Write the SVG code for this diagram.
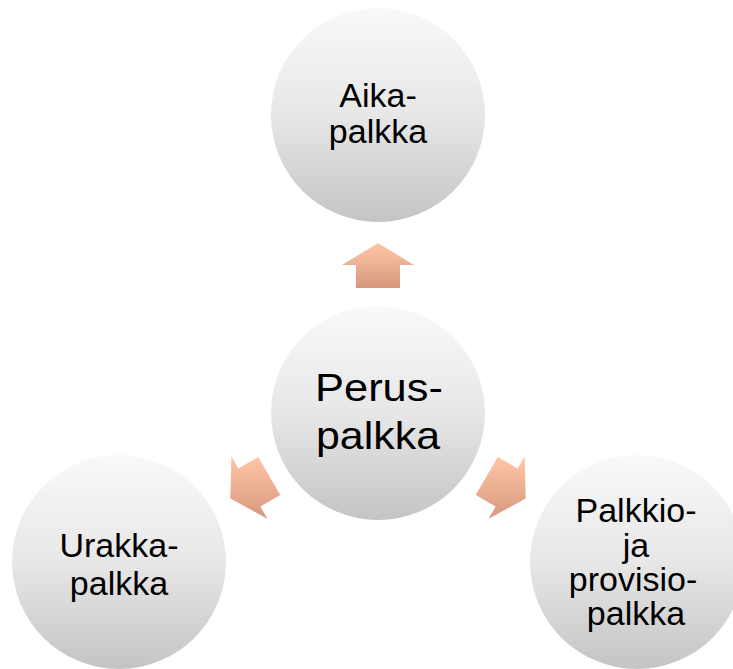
<svg xmlns="http://www.w3.org/2000/svg" width="733" height="669" viewBox="0 0 733 669">
<defs>
<linearGradient id="gCircle" x1="0" y1="0" x2="0" y2="1">
<stop offset="0" stop-color="#F9F9F9"/>
<stop offset="0.5" stop-color="#E7E7E7"/>
<stop offset="1" stop-color="#C4C4C4"/>
</linearGradient>
<linearGradient id="gArrow" x1="0" y1="0" x2="0" y2="1">
<stop offset="0" stop-color="#FFC7A6"/>
<stop offset="1" stop-color="#D6987E"/>
</linearGradient>
<style>
.node{fill:url(#gCircle);}
.arrow{fill:url(#gArrow);}
text{font-family:"Liberation Sans",Arial,sans-serif;fill:#000;text-anchor:middle;}
.s{font-size:34px;}
.l{font-size:39px;}
</style>
</defs>
<g id="connectors">
<polygon class="arrow" points="378,243 342,265 356,265 356,288 400,288 400,265 414,265"/>
<polygon class="arrow" points="230.3,498.5 267.4,518.7 260.4,506.6 280.3,495.1 258.3,457 238.4,468.5 231.4,456.3"/>
<polygon class="arrow" points="525.7,498.5 488.6,518.7 495.6,506.6 475.7,495.1 497.7,457 517.6,468.5 524.6,456.3"/>
</g>
<g id="node-aika">
<circle class="node" cx="378" cy="115" r="107"/>
<text class="s" x="378" y="107">Aika-</text>
<text class="s" x="378" y="143">palkka</text>
</g>
<g id="node-perus">
<circle class="node" cx="378" cy="413" r="107"/>
<text class="l" x="379" y="401" textLength="128" lengthAdjust="spacingAndGlyphs">Perus-</text>
<text class="l" x="378" y="449" textLength="124" lengthAdjust="spacingAndGlyphs">palkka</text>
</g>
<g id="node-urakka">
<circle class="node" cx="119" cy="562" r="107"/>
<text class="s" x="119" y="557">Urakka-</text>
<text class="s" x="119" y="595">palkka</text>
</g>
<g id="node-palkkio">
<circle class="node" cx="637" cy="562" r="107"/>
<text class="s" x="636" y="522">Palkkio-</text>
<text class="s" x="636" y="557">ja</text>
<text class="s" x="633" y="591">provisio-</text>
<text class="s" x="636" y="625">palkka</text>
</g>
</svg>
